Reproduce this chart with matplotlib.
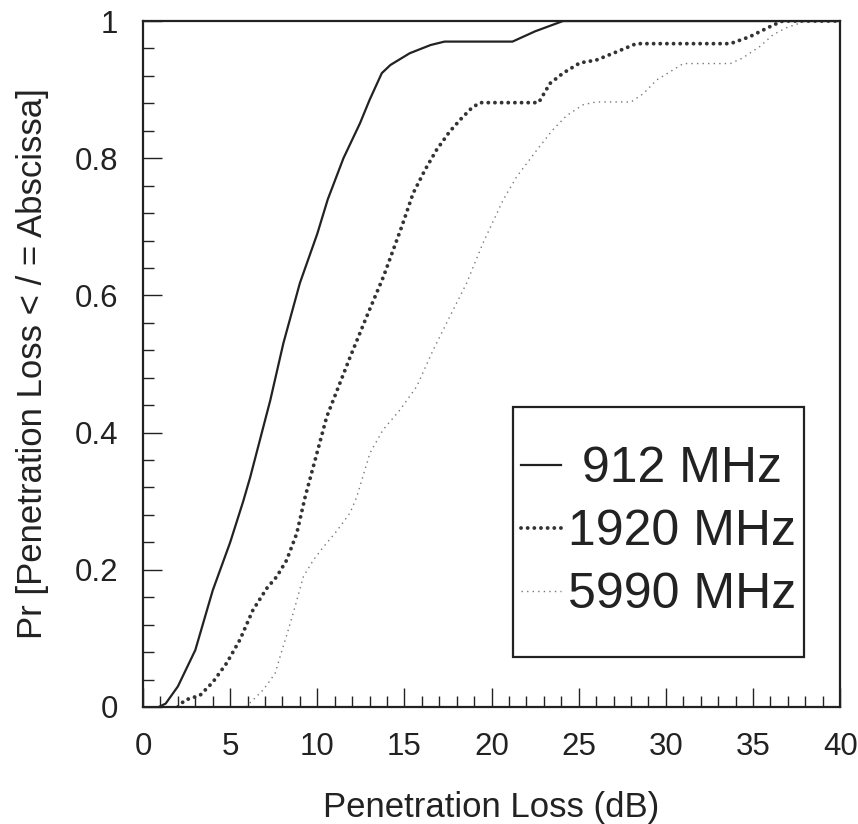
#script to redraw the penetration loss CDF for three frequencies

import matplotlib.pyplot as plt
from matplotlib.patches import Rectangle
from matplotlib.ticker import MultipleLocator, FormatStrFormatter

# 912 MHz
x_912 = [0.9, 1.3, 2.0, 3.0, 4.0, 5.0, 5.75, 6.15, 7.3, 8.05, 9.0, 10.0, 10.6, 11.5,
         12.45, 13.0, 13.7, 14.2, 15.3, 16.5, 17.3, 21.2, 22.5, 24.1, 40.0]
y_912 = [0.0, 0.005, 0.03, 0.083, 0.17, 0.24, 0.30, 0.335, 0.447, 0.53, 0.618, 0.69, 0.74, 0.80,
         0.851, 0.885, 0.924, 0.936, 0.953, 0.965, 0.97, 0.97, 0.985, 1.0, 1.0]

# 1920 MHz
x_1920 = [2.0, 2.4, 3.27, 4.0, 4.8, 5.56, 6.3, 7.1, 7.67, 8.24, 8.82, 9.3, 10.54, 11.88,
          12.83, 13.79, 14.84, 15.5, 16.18, 16.84, 17.6, 18.27, 18.85, 19.33, 22.7, 23.35,
          24.1, 25.07, 26.0, 27.17, 28.3, 33.7, 34.8, 36.15, 36.7, 40.0]
y_1920 = [0.0, 0.01, 0.017, 0.036, 0.064, 0.098, 0.141, 0.173, 0.19, 0.214, 0.253, 0.306, 0.423, 0.51,
          0.569, 0.627, 0.70, 0.749, 0.783, 0.812, 0.839, 0.858, 0.873, 0.881, 0.881, 0.909,
          0.924, 0.939, 0.943, 0.955, 0.967, 0.967, 0.977, 0.994, 1.0, 1.0]

# 5990 MHz
x_5990 = [5.9, 6.9, 7.58, 7.86, 8.33, 8.72, 9.2, 9.77, 10.34, 11.1, 11.88, 12.26, 13.02, 13.77,
          14.74, 15.7, 16.64, 17.6, 18.57, 19.5, 20.66, 21.44, 22.6, 23.5, 24.3, 25.26, 26.0,
          28.0, 28.7, 29.47, 30.24, 31.0, 33.7, 34.4, 35.4, 36.15, 36.9, 37.7, 38.1, 40.0]
y_5990 = [0.0, 0.025, 0.049, 0.073, 0.112, 0.146, 0.19, 0.214, 0.233, 0.256, 0.283, 0.306, 0.37, 0.404,
          0.433, 0.467, 0.52, 0.569, 0.618, 0.676, 0.739, 0.773, 0.812, 0.841, 0.862, 0.878, 0.882,
          0.882, 0.894, 0.914, 0.926, 0.938, 0.938, 0.946, 0.963, 0.98, 0.99, 0.997, 1.0, 1.0]

labels = [' 912 MHz', '1920 MHz', '5990 MHz']

INK = '#222222'


def main():
    plt.rcParams['font.family'] = ['Liberation Sans', 'DejaVu Sans']
    fig = plt.figure(figsize=(8.58, 8.24), dpi=100)
    ax = fig.add_axes([0.1667, 0.142, 0.8125, 0.8325])

    ax.plot(x_912, y_912, color=INK, lw=1.6, label=labels[0])
    ax.plot(x_1920, y_1920, color='#333333', lw=2.8, dashes=(0.01, 1.7),
            dash_capstyle='round', label=labels[1])
    ax.plot(x_5990, y_5990, color='#777777', lw=1.0, dashes=(1, 3), label=labels[2])

    ax.set_xlim(0, 40)
    ax.set_ylim(0, 1)
    ax.xaxis.set_major_locator(MultipleLocator(5))
    ax.xaxis.set_minor_locator(MultipleLocator(1))
    ax.yaxis.set_major_locator(MultipleLocator(0.2))
    ax.yaxis.set_minor_locator(MultipleLocator(0.04))
    ax.yaxis.set_major_formatter(FormatStrFormatter('%g'))
    ax.tick_params(which='both', direction='in', top=False, right=False,
                   labelsize=22.5, colors=INK, width=1.0)
    ax.tick_params(which='major', length=14, pad=18)
    ax.tick_params(which='minor', length=8)
    for s in ax.spines.values():
        s.set_linewidth(1.6)
        s.set_color(INK)

    ax.set_xlabel('Penetration Loss (dB)', fontsize=25, color=INK, labelpad=21)
    ax.set_ylabel('Pr [Penetration Loss < / = Abscissa]', fontsize=25, color=INK, labelpad=18)

    # legend box
    box = (0.531, 0.073, 0.417, 0.364)
    ax.add_patch(Rectangle(box[:2], box[2], box[3], transform=ax.transAxes,
                           facecolor='white', edgecolor=INK, lw=1.6, zorder=5))
    leg = ax.legend(loc='center', bbox_to_anchor=box,
                    prop={'size': 36}, frameon=False,
                    handlelength=0.8, handletextpad=0.15, labelspacing=0.34,
                    borderpad=0.2, borderaxespad=0)
    leg.set_zorder(6)
    for t in leg.get_texts():
        t.set_color(INK)

    fig.savefig('out.png', dpi=100)


if __name__ == '__main__':
    main()
